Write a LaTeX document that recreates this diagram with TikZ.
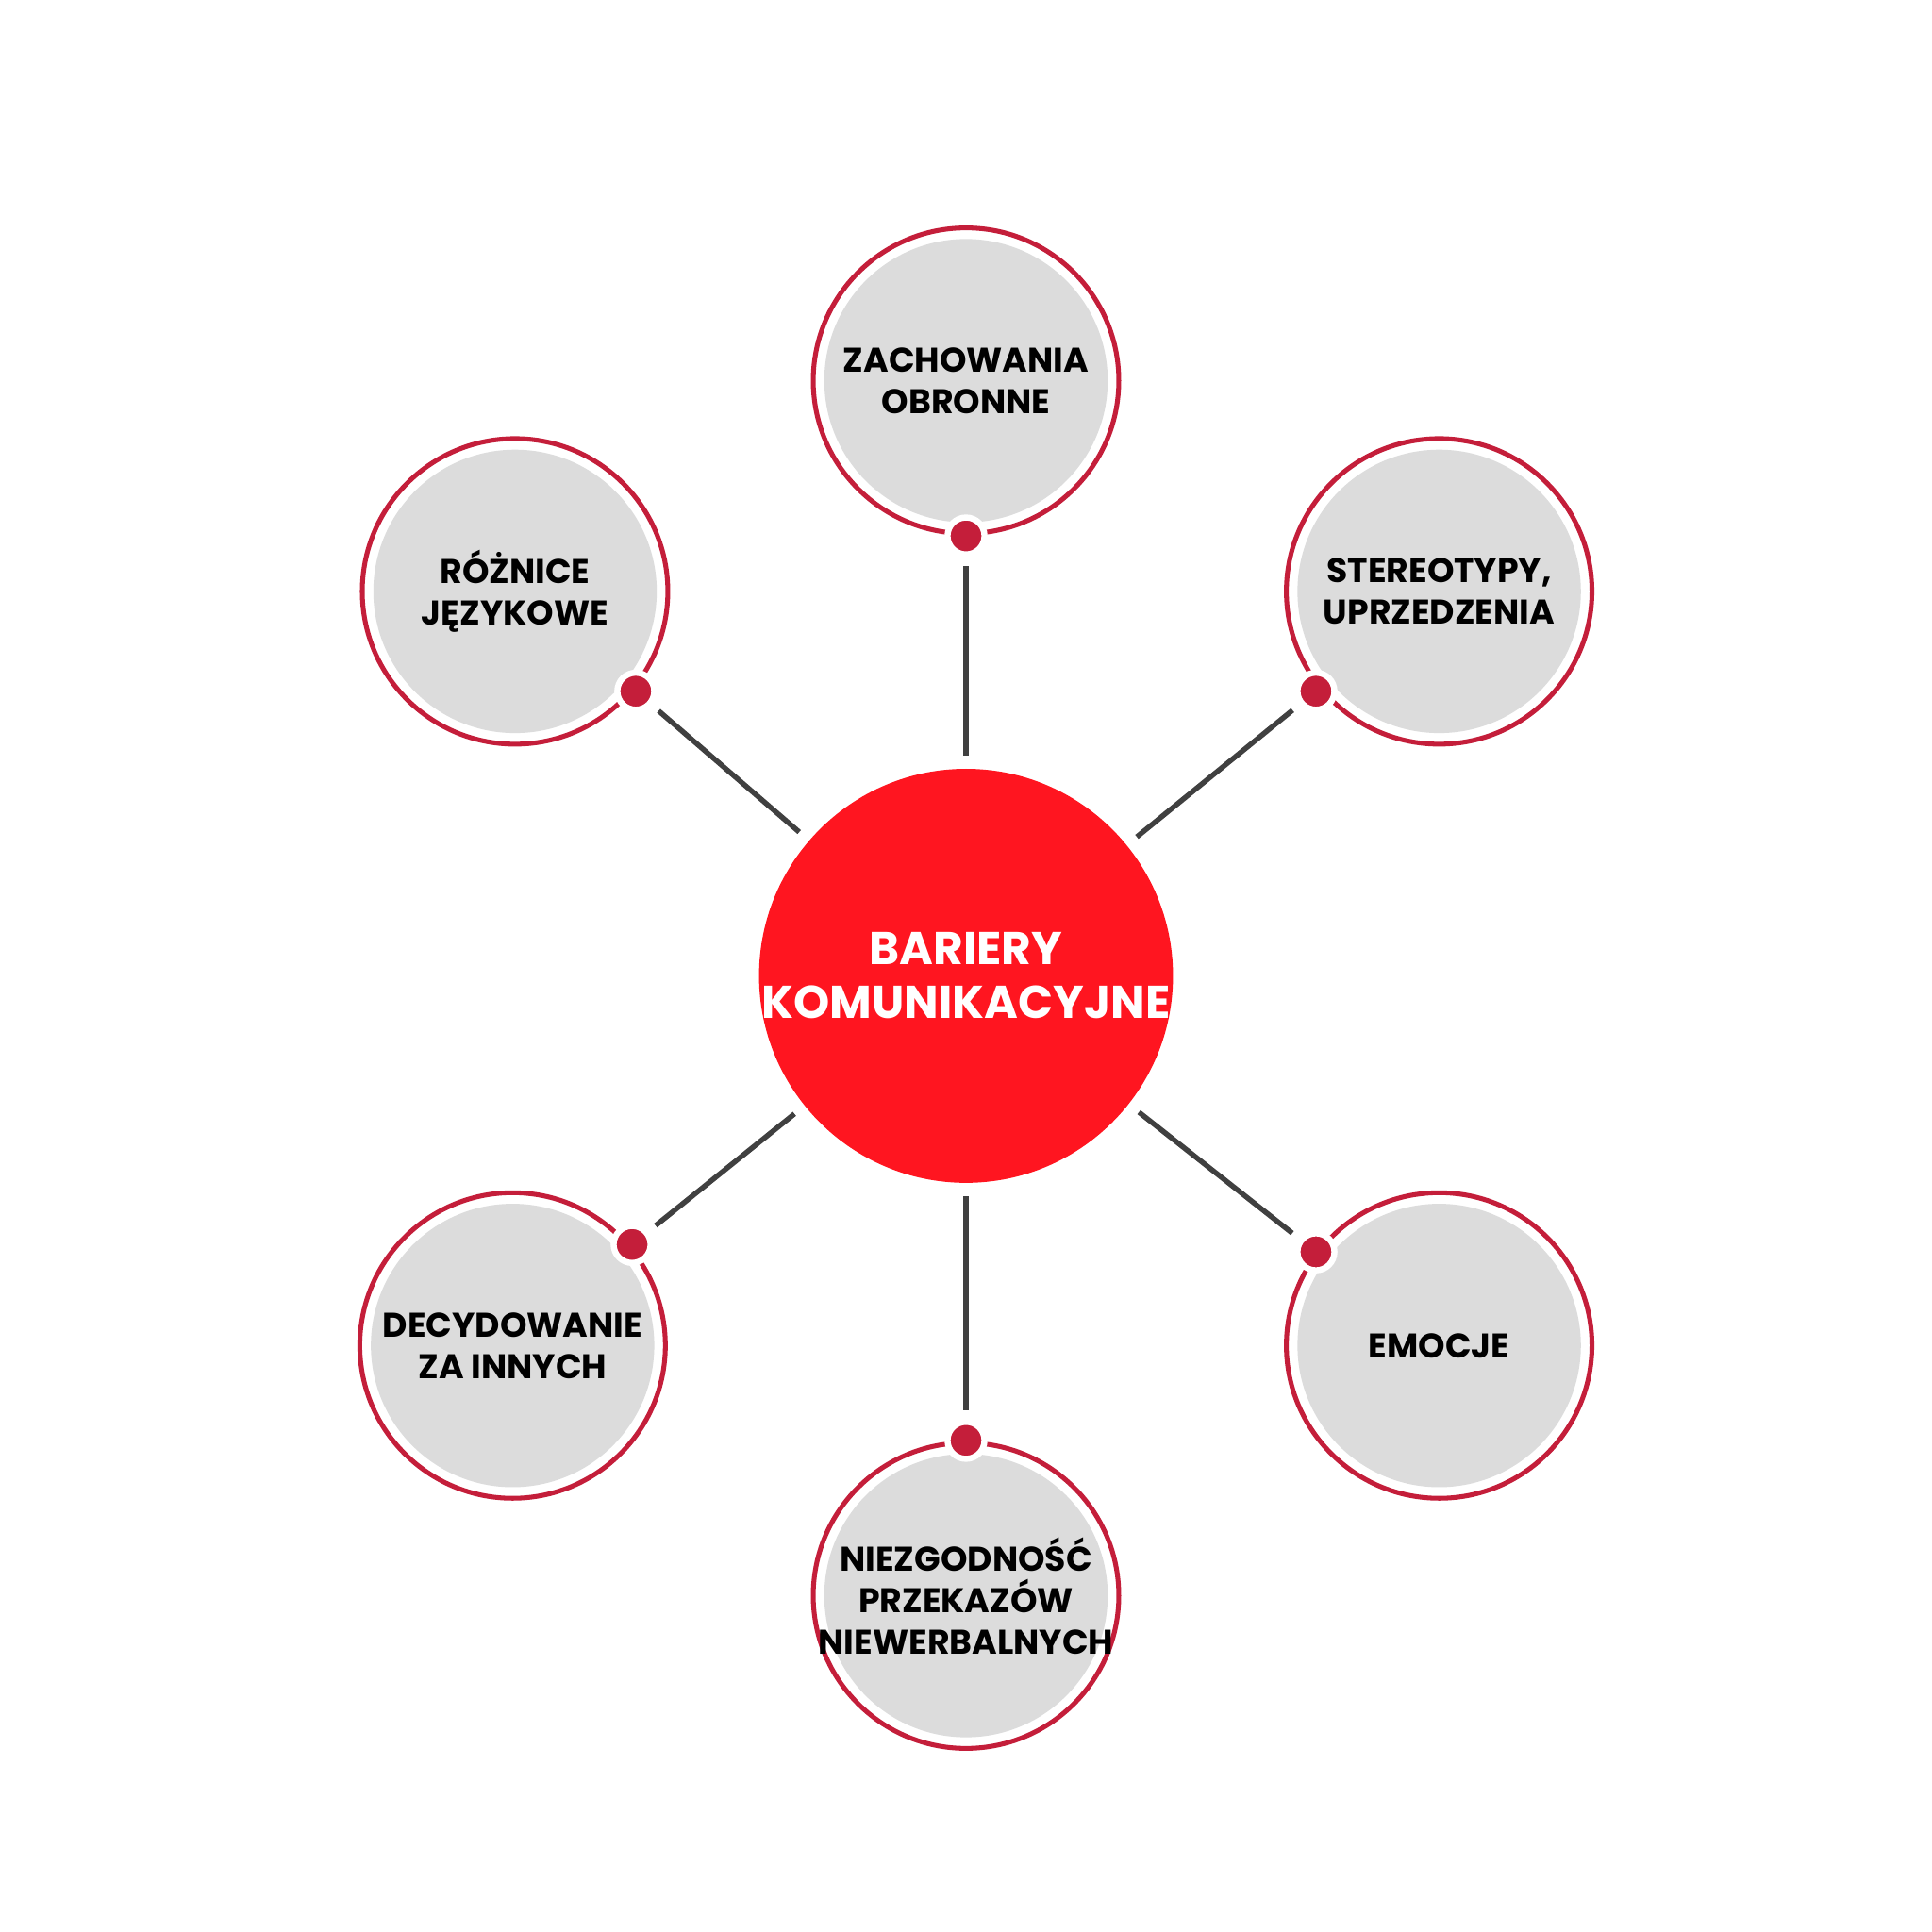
\documentclass[tikz,border=0pt]{standalone}
\usepackage{fontspec}
\setmainfont{Poppins}
\definecolor{ring}{HTML}{C41E3A}
\definecolor{hub}{HTML}{FF1520}
\definecolor{disc}{HTML}{DCDCDC}
\definecolor{link}{HTML}{404040}
\begin{document}
\begin{tikzpicture}
\useasboundingbox (0,0) rectangle (15.68,15.68);
\tikzset{
  sat/.style={circle,draw=ring,line width=1.1pt,fill=white,minimum size=2.48cm,inner sep=0pt,
    path picture={\fill[disc] (path picture bounding box.center) circle (1.15cm);}},
  sattext/.style={font=\bfseries\fontsize{7.9}{9.6}\selectfont,align=center,text=black,inner sep=0pt},
  hubnode/.style={circle,fill=hub,minimum size=3.36cm,inner sep=0pt},
  hubtext/.style={align=center,text=white,inner sep=0pt,font=\bfseries\fontsize{10.6}{12.4}\selectfont},
  dotnode/.style={circle,fill=ring,draw=white,line width=1.4pt,minimum size=0.3cm,inner sep=0pt},
  conn/.style={draw=link,line width=1.2pt,shorten <=0.07cm,shorten >=0.1cm}
}
\node[hubnode] (c) at (7.84,7.76) {};
\node[hubtext] (ct) at (c) {BARIERY\\KOMUNIKACYJNE};
\node[sat] (t) at (7.84,12.59) {};
\node[sattext] (tt) at (t) {ZACHOWANIA\\OBRONNE};
\node[sat] (tl) at (4.18,10.88) {};
\node[sattext] (tlt) at (tl) {RÓŻNICE\\JĘZYKOWE};
\node[sat] (tr) at (11.68,10.88) {};
\node[sattext] (trt) at (tr) {STEREOTYPY,\\UPRZEDZENIA};
\node[sat] (bl) at (4.16,4.76) {};
\node[sattext] (blt) at (bl) {DECYDOWANIE\\ZA INNYCH};
\node[sat] (br) at (11.68,4.76) {};
\node[sattext] (brt) at (br) {EMOCJE};
\node[sat] (b) at (7.84,2.73) {};
\node[sattext] (bt) at (b) {NIEZGODNOŚĆ\\PRZEKAZÓW\\NIEWERBALNYCH};
\node[dotnode] (dt) at (7.84,11.33) {};
\node[dotnode] (dtl) at (5.16,10.07) {};
\node[dotnode] (dtr) at (10.68,10.07) {};
\node[dotnode] (dbl) at (5.13,5.58) {};
\node[dotnode] (dbr) at (10.68,5.52) {};
\node[dotnode] (db) at (7.84,3.99) {};
\foreach \d in {dt,dtl,dtr,dbl,dbr,db} \draw[conn] (\d) -- (c);
\end{tikzpicture}
\end{document}
